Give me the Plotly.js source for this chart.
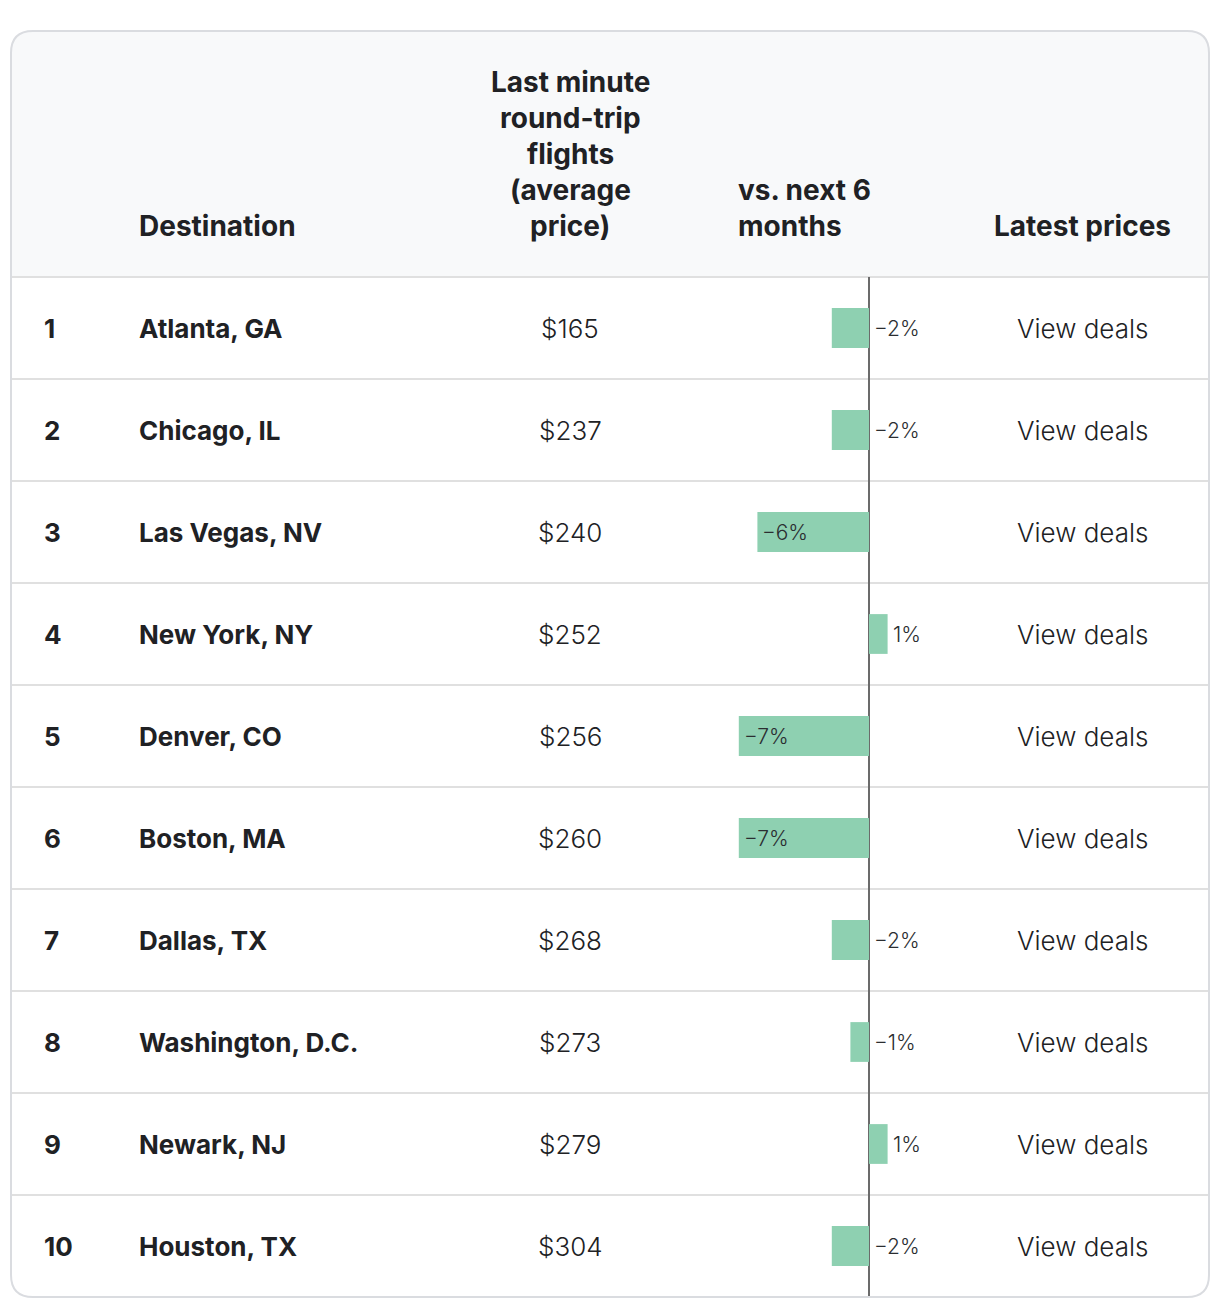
<!DOCTYPE html>
<html>
<head>
<meta charset="utf-8">
<script src="https://cdn.plot.ly/plotly-3.0.1.min.js"></script>
<style>html,body{margin:0;padding:0;background:#fff;}#chart{width:1220px;height:1308px;}</style>
</head>
<body>
<div id="chart"></div>
<script>
var ranks = [1, 2, 3, 4, 5, 6, 7, 8, 9, 10];
var destinations = ["Atlanta, GA", "Chicago, IL", "Las Vegas, NV", "New York, NY", "Denver, CO", "Boston, MA", "Dallas, TX", "Washington, D.C.", "Newark, NJ", "Houston, TX"];
var prices = [165, 237, 240, 252, 256, 260, 268, 273, 279, 304];
var changes = [-2, -2, -6, 1, -7, -7, -2, -1, 1, -2];
var linkLabel = "View deals";
var headerDestination = "Destination";
var headerPrice = ["Last minute", "round-trip", "flights", "(average", "price)"];
var headerChange = ["vs. next 6", "months"];
var headerLatest = "Latest prices";

var W = 1220, H = 1308;
function px(x) { return x / W; }
function py(y) { return 1 - y / H; }

var FONT = "Inter, 'Noto Sans', sans-serif";
var DARK = "#202124";
var GREEN = "#8ed0b1";
var BORDER = "#dadce0";

var top0 = 277, rowH = 102, n = ranks.length;
var bottom = top0 + rowH * n;
var L = 11, R = 1209, T = 31, B = 1297, rad = 22;

var shapes = [];
// header background with rounded top corners
shapes.push({type: "path", xref: "paper", yref: "paper", layer: "below",
  path: "M " + px(L) + "," + py(top0) + " L " + px(L) + "," + py(T + rad) +
        " Q " + px(L) + "," + py(T) + " " + px(L + rad) + "," + py(T) +
        " L " + px(R - rad) + "," + py(T) + " Q " + px(R) + "," + py(T) + " " + px(R) + "," + py(T + rad) +
        " L " + px(R) + "," + py(top0) + " Z",
  fillcolor: "#f8f9fa", line: {width: 0}});
// row separators
for (var i = 0; i < n; i++) {
  var yy = top0 + rowH * i;
  shapes.push({type: "line", xref: "paper", yref: "paper", layer: "below",
    x0: px(L), x1: px(R), y0: py(yy), y1: py(yy), line: {color: "#e0e0e0", width: 2}});
}
// outer rounded border
shapes.push({type: "path", xref: "paper", yref: "paper", layer: "above",
  path: "M " + px(L + rad) + "," + py(T) + " L " + px(R - rad) + "," + py(T) +
        " Q " + px(R) + "," + py(T) + " " + px(R) + "," + py(T + rad) +
        " L " + px(R) + "," + py(B - rad) + " Q " + px(R) + "," + py(B) + " " + px(R - rad) + "," + py(B) +
        " L " + px(L + rad) + "," + py(B) + " Q " + px(L) + "," + py(B) + " " + px(L) + "," + py(B - rad) +
        " L " + px(L) + "," + py(T + rad) + " Q " + px(L) + "," + py(T) + " " + px(L + rad) + "," + py(T) + " Z",
  line: {color: BORDER, width: 2}, fillcolor: "rgba(0,0,0,0)"});

var ann = [];
function hdr(text, x, y, xanchor) {
  ann.push({text: text, xref: "paper", yref: "paper", x: px(x), y: py(y), xanchor: xanchor, yanchor: "middle",
    showarrow: false, font: {family: FONT, size: 28, color: DARK, weight: 700}});
}
hdr(headerDestination, 137, 226, "left");
for (var k = 0; k < headerPrice.length; k++) hdr(headerPrice[k], 570, 82 + 36 * k, "center");
for (var k = 0; k < headerChange.length; k++) hdr(headerChange[k], 736, 190 + 36 * k, "left");
hdr(headerLatest, 1082, 226, "center");

var rowIdx = ranks.map(function (r, i) { return i; });
for (var i = 0; i < n; i++) {
  ann.push({text: String(ranks[i]), xref: "paper", yref: "y", x: px(42), y: i, xanchor: "left", yanchor: "middle",
    showarrow: false, font: {family: FONT, size: 26, color: DARK, weight: 700}});
  ann.push({text: destinations[i], xref: "paper", yref: "y", x: px(137), y: i, xanchor: "left", yanchor: "middle",
    showarrow: false, font: {family: FONT, size: 26, color: DARK, weight: 700}});
  ann.push({text: "$" + prices[i], xref: "paper", yref: "y", x: px(570), y: i, xanchor: "center", yanchor: "middle",
    showarrow: false, font: {family: FONT, size: 26, color: DARK, weight: 300}});
  ann.push({text: linkLabel, xref: "paper", yref: "y", x: px(1082), y: i, xanchor: "center", yanchor: "middle",
    showarrow: false, font: {family: FONT, size: 26, color: DARK, weight: 300}});
  var v = changes[i];
  var lbl = (v < 0 ? "\u2212" : "") + Math.abs(v) + "%";
  var inside = v <= -5;
  ann.push({text: lbl, xref: "x2", yref: "y", x: inside ? v : Math.max(v, 0), y: i, xanchor: "left", yanchor: "middle",
    xshift: 3, showarrow: false, font: {family: FONT, size: 21, color: "#2b2e31", weight: 300}});
}

// bar axis: zero at x=869, ~18.6 px per percent
var ax0 = 700, ax1 = 960, zeroX = 869, pxPer = 18.6;
var trace = {
  type: "bar", orientation: "h", x: changes, y: rowIdx, xaxis: "x2", yaxis: "y",
  width: 0.39, marker: {color: GREEN, line: {width: 0}}, hoverinfo: "skip"
};

var layout = {
  width: W, height: H, margin: {l: 0, r: 0, t: 0, b: 0},
  paper_bgcolor: "#ffffff", plot_bgcolor: "rgba(0,0,0,0)",
  showlegend: false,
  xaxis2: {domain: [px(ax0), px(ax1)], range: [-(zeroX - ax0) / pxPer, (ax1 - zeroX) / pxPer],
    showgrid: false, showticklabels: false, ticks: "", zeroline: true, zerolinecolor: "#6b6b6b", zerolinewidth: 2,
    fixedrange: true, anchor: "y"},
  yaxis: {domain: [py(bottom), py(top0)], range: [n - 0.5, -0.5], showgrid: false, showticklabels: false,
    ticks: "", zeroline: false, fixedrange: true, anchor: "x2"},
  shapes: shapes, annotations: ann
};

Plotly.newPlot("chart", [trace], layout, {displayModeBar: false, staticPlot: true});
</script>
</body>
</html>
